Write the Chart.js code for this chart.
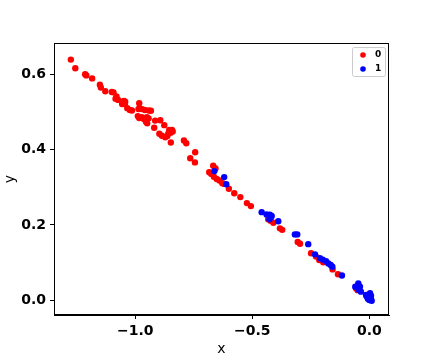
<!DOCTYPE html>
<html>
<head>
<meta charset="utf-8">
<script src="https://cdn.jsdelivr.net/npm/chart.js@4"></script>
<style>
  html, body { margin: 0; padding: 0; background: #fff; }
  #wrap { width: 432px; height: 360px; }
</style>
</head>
<body>
<div id="wrap"><canvas id="graph-canvas" width="432" height="360"></canvas></div>
<script>
// class 0 (red)
const x0 = [-1.275, -1.256, -1.214, -1.209, -1.184, -1.151, -1.147, -1.128, -1.100, -1.093,
  -1.080, -1.084, -1.073, -1.054, -1.048, -1.043, -1.056, -1.044, -1.034, -1.023,
  -1.014, -0.983, -0.986, -0.973, -0.959, -0.942, -0.933, -0.989, -0.983, -0.972,
  -0.963, -0.954, -0.949, -0.950, -0.943, -0.915, -0.893, -0.919, -0.897, -0.876,
  -0.886, -0.872, -0.863, -0.855, -0.849, -0.843, -0.840, -0.859, -0.848, -0.792,
  -0.782, -0.744, -0.765, -0.745, -0.667, -0.657, -0.684, -0.675, -0.664, -0.652,
  -0.640, -0.628, -0.620, -0.600, -0.577, -0.551, -0.523, -0.506, -0.432, -0.422,
  -0.410, -0.382, -0.372, -0.306, -0.296, -0.249, -0.228, -0.214, -0.197, -0.157,
  -0.134, -0.057, -0.050];
const y0 = [0.639, 0.616, 0.600, 0.597, 0.589, 0.572, 0.565, 0.555, 0.553, 0.552,
  0.541, 0.535, 0.532, 0.527, 0.529, 0.527, 0.521, 0.521, 0.510, 0.505,
  0.504, 0.523, 0.508, 0.508, 0.505, 0.504, 0.503, 0.489, 0.484, 0.486,
  0.481, 0.474, 0.470, 0.486, 0.483, 0.477, 0.478, 0.458, 0.442, 0.465,
  0.437, 0.433, 0.436, 0.452, 0.445, 0.452, 0.448, 0.442, 0.419, 0.424,
  0.417, 0.393, 0.377, 0.366, 0.357, 0.350, 0.340, 0.335, 0.328, 0.322,
  0.318, 0.311, 0.309, 0.296, 0.284, 0.274, 0.258, 0.250, 0.215, 0.211,
  0.206, 0.191, 0.187, 0.155, 0.150, 0.125, 0.116, 0.107, 0.101, 0.082,
  0.069, 0.032, 0.027];

// class 1 (blue)
const x1 = [-0.662, -0.620, -0.611, -0.460, -0.439, -0.425, -0.417, -0.427, -0.422, -0.389,
  -0.318, -0.308, -0.261, -0.232, -0.211, -0.199, -0.185, -0.175, -0.165, -0.158,
  -0.117, -0.060, -0.047, -0.040, -0.036, -0.047, -0.014, -0.004, 0.003, 0.006,
  0.010, 0.000, -0.011, 0.007, -0.006];
const y1 = [0.343, 0.327, 0.308, 0.234, 0.228, 0.227, 0.224, 0.215, 0.219, 0.210,
  0.175, 0.175, 0.149, 0.122, 0.112, 0.108, 0.104, 0.098, 0.094, 0.089,
  0.066, 0.036, 0.045, 0.036, 0.023, 0.029, 0.014, 0.010, 0.019, 0.005,
  -0.001, 0.001, 0.010, 0.012, 0.004];

const classLabels = ['0', '1'];
const xTicks = [-1.0, -0.5, 0.0];
const yTicks = [0.0, 0.2, 0.4, 0.6];

function pts(xs, ys) {
  return xs.map((v, i) => ({ x: v, y: ys[i] }));
}

function fmt(v) {
  return v.toFixed(1).replace('-', '\u2212');
}

// frame round the plot + legend in the upper right corner
const framePlugin = {
  id: 'frame',
  afterDraw(chart) {
    const ctx = chart.ctx;
    const a = chart.chartArea;
    ctx.save();
    ctx.strokeStyle = '#000';
    ctx.lineWidth = 1;
    ctx.strokeRect(a.left + 0.5, a.top + 0.5, a.right - a.left - 1, a.bottom - a.top - 1);

    // legend box
    const bx = a.right - 37, by = a.top + 4, bw = 33, bh = 29;
    ctx.fillStyle = 'rgba(255,255,255,0.8)';
    ctx.strokeStyle = '#cccccc';
    ctx.beginPath();
    ctx.roundRect(bx + 0.5, by + 0.5, bw, bh, 2);
    ctx.fill();
    ctx.stroke();
    chart.data.datasets.forEach((ds, i) => {
      const cy = by + 8 + i * 14;
      ctx.fillStyle = ds.backgroundColor;
      ctx.beginPath();
      ctx.arc(bx + 11, cy, 2.8, 0, Math.PI * 2);
      ctx.fill();
      ctx.fillStyle = '#000';
      ctx.font = 'bold 9px "DejaVu Sans"';
      ctx.textBaseline = 'middle';
      ctx.fillText(ds.label, bx + 23, cy);
    });
    ctx.restore();
  }
};

let graphTarget = document.getElementById('graph-canvas');
let scatterGraph = new Chart(graphTarget, {
  type: 'scatter',
  data: {
    datasets: [
      {
        label: classLabels[0],
        data: pts(x0, y0),
        backgroundColor: '#ff0000',
        borderColor: '#ff0000',
        pointRadius: 3.2,
        borderWidth: 0,
        order: 1
      },
      {
        label: classLabels[1],
        data: pts(x1, y1),
        backgroundColor: '#0000ff',
        borderColor: '#0000ff',
        pointRadius: 3.2,
        borderWidth: 0,
        order: 0
      }
    ]
  },
  options: {
    responsive: false,
    animation: false,
    layout: { padding: { top: 43, right: 43, left: 0, bottom: 0 } },
    plugins: {
      legend: { display: false },
      tooltip: { enabled: false }
    },
    scales: {
      x: {
        type: 'linear',
        min: -1.347,
        max: 0.084,
        afterBuildTicks: axis => { axis.ticks = xTicks.map(v => ({ value: v })); },
        afterFit: axis => { axis.height = 45; },
        grid: { drawOnChartArea: false, drawTicks: true, tickLength: 4, color: '#000' },
        border: { display: true, color: '#000' },
        ticks: {
          callback: v => fmt(v),
          color: '#000',
          padding: 4,
          maxRotation: 0,
          font: { family: 'DejaVu Sans', size: 14, weight: 'bold' }
        },
        title: {
          display: true,
          text: 'x',
          color: '#000',
          padding: { top: 0, bottom: 2 },
          font: { family: 'DejaVu Sans', size: 14 }
        }
      },
      y: {
        type: 'linear',
        min: -0.039,
        max: 0.683,
        afterBuildTicks: axis => { axis.ticks = yTicks.map(v => ({ value: v })); },
        afterFit: axis => { axis.width = 54; },
        grid: { drawOnChartArea: false, drawTicks: true, tickLength: 4, color: '#000' },
        border: { display: true, color: '#000' },
        ticks: {
          callback: v => fmt(v),
          color: '#000',
          padding: 4,
          font: { family: 'DejaVu Sans', size: 14, weight: 'bold' }
        },
        title: {
          display: true,
          text: 'y',
          color: '#000',
          padding: { top: 2, bottom: 0 },
          font: { family: 'DejaVu Sans', size: 14 }
        }
      }
    }
  },
  plugins: [framePlugin]
});
</script>
</body>
</html>
